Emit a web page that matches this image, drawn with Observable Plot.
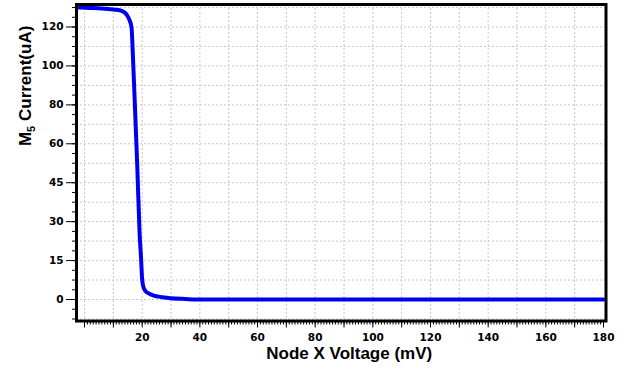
<!DOCTYPE html>
<html><head><meta charset="utf-8">
<script src="https://cdn.jsdelivr.net/npm/d3@7"></script>
<script src="https://cdn.jsdelivr.net/npm/@observablehq/plot@0.6"></script>
<style>
html,body{margin:0;padding:0;background:#fff;}
</style></head><body><div id="chart"></div>
<script>
// Data
const voltage = [-3, 2, 6, 10, 12.5, 14, 14.8, 15.6, 16.3, 16.7, 17.4, 18.3, 19.1, 19.6, 20.0, 20.5, 21.1, 22.5, 24.0, 27, 29.8, 35, 40.2, 60, 100, 140, 180];
const current = [130.1, 129.8, 129.5, 129.0, 128.5, 127.3, 125.9, 123.5, 119.9, 107.9, 82.2, 51.0, 25.4, 16.0, 7.5, 4.5, 3.3, 2.2, 1.5, 0.9, 0.5, 0.2, 0, 0, 0, 0, 0];
const yTickLabels = [0, 15, 30, 45, 60, 80, 100, 120];
const xTickLabels = [20, 40, 60, 80, 100, 120, 140, 160, 180];
const xLabel = "Node X Voltage (mV)";
const yLabel = "M5 Current(uA)";

// The reference's y axis places its (unevenly valued) labels at equal spacing:
// map values through a piecewise scale onto label-index space.
const toIdx = d3.scaleLinear().domain(yTickLabels).range(d3.range(yTickLabels.length));
const data = voltage.map((v, i) => ({v, c: current[i]}));

const tickFont = {fontSize: 10.5, fontWeight: "bold", fontFamily: "'DejaVu Sans', sans-serif"};
const grid = {stroke: "#c8c8c8", strokeDasharray: "2,2", strokeWidth: 1};
const noText = () => "";

const chart = Plot.plot({
  width: 633, height: 374,
  marginLeft: 76, marginRight: 27.5, marginTop: 4, marginBottom: 53.5,
  style: {background: "#fff", color: "#000"},
  x: {domain: [-2.79, 180.87]},
  y: {domain: [-0.552, 7.578]},
  marks: [
    Plot.ruleX(d3.range(0, 171, 10), grid),
    Plot.ruleY(d3.range(-0.5, 7.51, 0.5), grid),
    Plot.line(data, {x: "v", y: d => toIdx(d.c), stroke: "#0000f0", strokeWidth: 4, clip: true, curve: "monotone-x"}),
    Plot.frame({stroke: "#000", strokeWidth: 3}),
    Plot.axisX({ticks: d3.range(0, 181, 1), tickSize: 4, tickFormat: noText, label: null}),
    Plot.axisX({ticks: d3.range(0, 181, 10), tickSize: 7, tickFormat: noText, label: null}),
    Plot.axisX({ticks: xTickLabels, tickSize: 0, tickPadding: 13, label: null, ...tickFont}),
    Plot.axisY({ticks: d3.range(-0.5, 7.51, 0.25), tickSize: 4, tickFormat: noText, label: null}),
    Plot.axisY({ticks: d3.range(0, yTickLabels.length), tickSize: 10, tickFormat: noText, label: null}),
    Plot.axisY({ticks: d3.range(0, yTickLabels.length), tickSize: 0, tickPadding: 13, tickFormat: i => yTickLabels[i], label: null, ...tickFont}),
    Plot.text([xLabel], {text: d => d, frameAnchor: "bottom", dx: 8, dy: 38, fontSize: 17, fontWeight: "bold", fontFamily: "'Liberation Sans', Arial, sans-serif"}),
    Plot.text([yLabel], {text: d => d, frameAnchor: "left", rotate: -90, dx: -51.4, dy: -16.7, fontSize: 17, fontWeight: "bold", fontFamily: "'Liberation Sans', Arial, sans-serif"})
  ]
});

// drop the empty labels of the tick-only axes
d3.select(chart).selectAll("text").filter(function() { return this.textContent === ""; }).remove();

// subscript the "5" in M5
d3.select(chart).selectAll("text").filter(function() { return this.textContent === yLabel; }).each(function() {
  const t = d3.select(this);
  t.text(null);
  t.append("tspan").text("M");
  t.append("tspan").attr("font-size", 11).attr("dy", 4).text("5");
  t.append("tspan").attr("dy", -4).text(" Current(uA)");
});

document.getElementById("chart").appendChild(chart);
</script>
</body></html>
